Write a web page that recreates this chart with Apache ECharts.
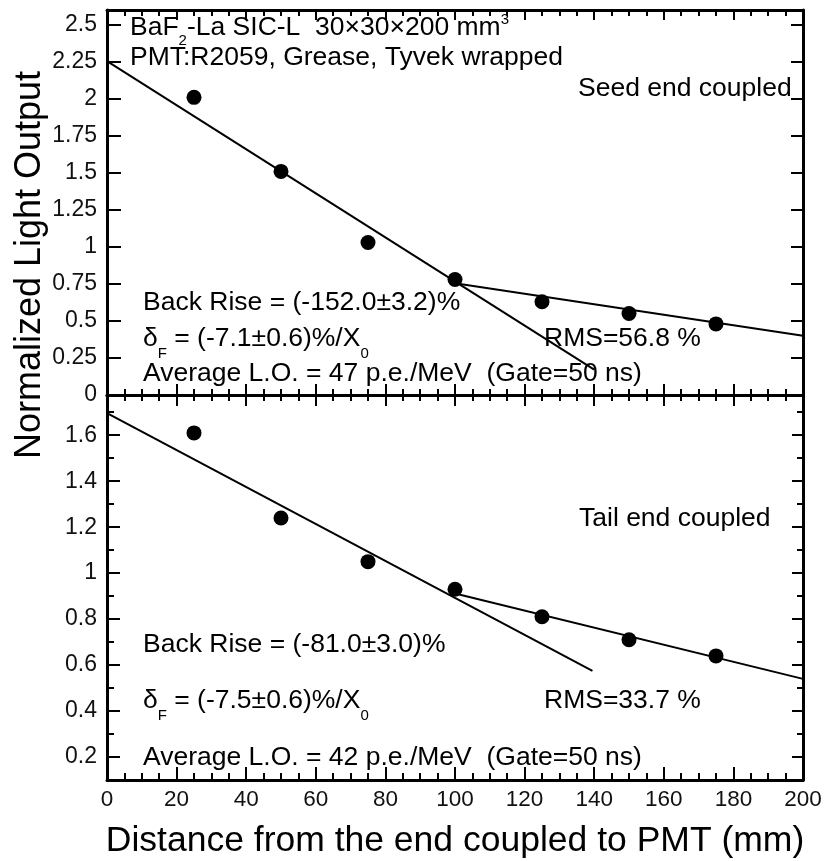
<!DOCTYPE html>
<html><head><meta charset="utf-8">
<script src="https://cdn.jsdelivr.net/npm/echarts@6/dist/echarts.min.js"></script>
<style>html,body{margin:0;padding:0;background:#fff}#c{width:830px;height:861px}</style>
</head><body><div id="c"></div>
<script>
const FONT = '"Liberation Sans", Arial, Helvetica, sans-serif';

// ---- data ----
const distances = [25, 50, 75, 100, 125, 150, 175];
const seedLO = [2.01, 1.51, 1.03, 0.78, 0.63, 0.55, 0.48];
const tailLO = [1.61, 1.24, 1.05, 0.93, 0.81, 0.71, 0.64];
const seedFrontFitX = [0, 140];
const seedFrontFitY = [2.255, 0.172];
const seedBackFitX = [100, 200];
const seedBackFitY = [0.755, 0.40];
const tailFrontFitX = [0, 139.5];
const tailFrontFitY = [1.696, 0.575];
const tailBackFitX = [100, 200];
const tailBackFitY = [0.911, 0.54];
const xTickLabels = [0, 20, 40, 60, 80, 100, 120, 140, 160, 180, 200];
const seedYTicks = [0, 0.25, 0.5, 0.75, 1, 1.25, 1.5, 1.75, 2, 2.25, 2.5];
const tailYTicks = [0.2, 0.4, 0.6, 0.8, 1, 1.2, 1.4, 1.6];

const seedTexts = [
  '{m|BaF}{sub|2}{m|-La SIC-L  30×30×200 mm}{sup|3}',
  '{m|PMT:R2059, Grease, Tyvek wrapped}',
  '{m|Seed end coupled}',
  '{m|Back Rise = (-152.0±3.2)%}',
  '{d|δ}{sub|F}{d| = (-7.1±0.6)%/X}{sub|0}',
  '{m|Average L.O. = 47 p.e./MeV  (Gate=50 ns)}',
  '{m|RMS=56.8 %}'
];
const tailTexts = [
  '{m|Tail end coupled}',
  '{m|Back Rise = (-81.0±3.0)%}',
  '{d|δ}{sub|F}{d| = (-7.5±0.6)%/X}{sub|0}',
  '{m|Average L.O. = 42 p.e./MeV  (Gate=50 ns)}',
  '{m|RMS=33.7 %}'
];
const xTitle = 'Distance from the end coupled to PMT (mm)';
const yTitle = 'Normalized Light Output';

// ---- layout ----
const G0 = {left: 107, top: 10, width: 696, height: 385};
const G1 = {left: 107, top: 395, width: 696, height: 385};

const RICH = {
  m: {fontSize: 26.5, lineHeight: 40, fontFamily: FONT, fill: '#000'},
  d: {fontSize: 26.5, lineHeight: 45, fontFamily: FONT, fill: '#000'},
  sub: {fontSize: 15, verticalAlign: 'bottom', fontFamily: FONT, fill: '#000'},
  sup: {fontSize: 15, verticalAlign: 'top', padding: [4, 0, 0, 0], fontFamily: FONT, fill: '#000'}
};

function txt(t, x, y) {
  return {type: 'text', x: x, y: y, z: 50,
    style: {text: t, rich: RICH, align: 'left', verticalAlign: 'middle'}};
}

const LINE = {color: '#000', width: 3};
const TICK = {color: '#000', width: 2};

function xAx(grid, pos, showLabel, majorLen, minorLen) {
  return {
    type: 'value', gridIndex: grid, position: pos, min: 0, max: 200, interval: 20,
    axisLine: {show: true, onZero: false, lineStyle: LINE},
    axisTick: {show: true, inside: true, length: majorLen, lineStyle: TICK},
    minorTick: {show: true, splitNumber: 4, length: minorLen, lineStyle: TICK},
    splitLine: {show: false}, minorSplitLine: {show: false},
    axisLabel: {show: showLabel, fontSize: 22.5, color: '#111', margin: 8, fontFamily: FONT,
      customValues: xTickLabels}
  };
}

function yAx(grid, pos, min, max, opts) {
  return Object.assign({
    type: 'value', gridIndex: grid, position: pos, min: min, max: max,
    axisLine: {show: true, onZero: false, lineStyle: LINE},
    splitLine: {show: false},
    axisLabel: {show: false}
  }, opts);
}

const yAxes = [
  // 0: top panel left (labels)
  yAx(0, 'left', 0, 2.6, {
    interval: 0.25,
    axisTick: {show: true, inside: true, length: 14, lineStyle: TICK, customValues: seedYTicks},
    axisLabel: {show: true, fontSize: 23, color: '#111', margin: 10, fontFamily: FONT,
      customValues: seedYTicks}
  }),
  // 1: top panel right
  yAx(0, 'right', 0, 2.6, {
    interval: 0.25,
    axisTick: {show: true, inside: true, length: 12, lineStyle: TICK, customValues: seedYTicks}
  }),
  // 2: bottom panel left minor ticks
  yAx(1, 'left', 0.1, 1.775, {
    interval: 0.1,
    axisTick: {show: true, inside: true, length: 7, lineStyle: TICK}
  }),
  // 3: bottom panel left major ticks + labels
  yAx(1, 'left', 0.1, 1.775, {
    axisLine: {show: false, onZero: false},
    axisTick: {show: true, inside: true, length: 13, lineStyle: TICK, customValues: tailYTicks},
    axisLabel: {show: true, fontSize: 23, color: '#111', margin: 10, fontFamily: FONT,
      customValues: tailYTicks, formatter: v => (Math.round(v * 10) / 10).toString()}
  }),
  // 4: bottom panel right minor
  yAx(1, 'right', 0.1, 1.775, {
    interval: 0.1,
    axisTick: {show: true, inside: true, length: 6, lineStyle: TICK}
  }),
  // 5: bottom panel right major
  yAx(1, 'right', 0.1, 1.775, {
    axisLine: {show: false, onZero: false},
    axisTick: {show: true, inside: true, length: 11, lineStyle: TICK, customValues: tailYTicks}
  })
];

const xAxes = [
  xAx(0, 'bottom', false, 11, 6),
  xAx(0, 'top', false, 10, 6),
  xAx(1, 'bottom', true, 13, 7),
  xAx(1, 'top', false, 11, 6)
];

function pts(xs, ys) { return xs.map((x, i) => [x, ys[i]]); }

function scatter(xi, yi, ys) {
  return {type: 'scatter', xAxisIndex: xi, yAxisIndex: yi, data: pts(distances, ys),
    symbol: 'circle', symbolSize: 15, itemStyle: {color: '#000', opacity: 1}, z: 5, silent: true};
}
function fit(xi, yi, xs, ys) {
  return {type: 'line', xAxisIndex: xi, yAxisIndex: yi, data: pts(xs, ys), symbol: 'none',
    lineStyle: {color: '#000', width: 2}, z: 4, silent: true, animation: false};
}

const option = {
  animation: false,
  backgroundColor: '#fff',
  grid: [Object.assign({outerBoundsMode: 'none', containLabel: false}, G0),
         Object.assign({outerBoundsMode: 'none', containLabel: false}, G1)],
  xAxis: xAxes,
  yAxis: yAxes,
  series: [
    scatter(0, 0, seedLO),
    fit(0, 0, seedFrontFitX, seedFrontFitY),
    fit(0, 0, seedBackFitX, seedBackFitY),
    scatter(2, 3, tailLO),
    fit(2, 3, tailFrontFitX, tailFrontFitY),
    fit(2, 3, tailBackFitX, tailBackFitY)
  ],
  graphic: [
    txt(seedTexts[0], 130, 28),
    txt(seedTexts[1], 130, 58),
    txt(seedTexts[2], 578, 89),
    txt(seedTexts[3], 143, 303),
    txt(seedTexts[4], 143, 339),
    txt(seedTexts[5], 143, 374),
    txt(seedTexts[6], 544, 339),
    txt(tailTexts[0], 579, 519),
    txt(tailTexts[1], 143, 645),
    txt(tailTexts[2], 143, 701),
    txt(tailTexts[3], 143, 758),
    txt(tailTexts[4], 544, 701),
    {type: 'text', x: 455, y: 841, z: 50,
      style: {text: xTitle, fontSize: 35.5, fontFamily: FONT, fill: '#000', align: 'center', verticalAlign: 'middle'}},
    {type: 'text', x: 30, y: 265, rotation: Math.PI / 2, z: 50,
      style: {text: yTitle, fontSize: 36, fontFamily: FONT, fill: '#000', align: 'center', verticalAlign: 'middle'}}
  ]
};

const chart = echarts.init(document.getElementById('c'), null, {renderer: 'canvas'});
chart.setOption(option);
</script>
</body></html>
